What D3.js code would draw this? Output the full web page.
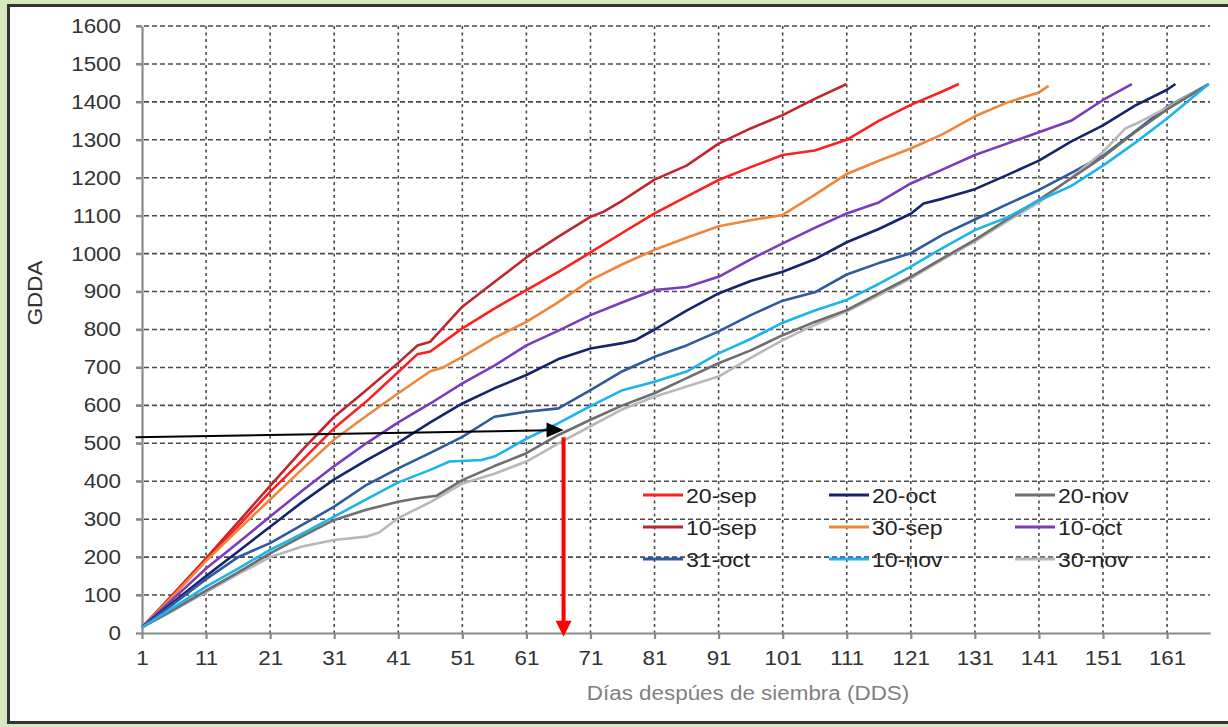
<!DOCTYPE html>
<html>
<head>
<meta charset="utf-8">
<script src="https://cdn.jsdelivr.net/npm/d3@7"></script>
<style>
    body { margin: 0; background: #d7e9be; }
    #chart-area { width: 1228px; height: 727px; }
    text { font-family: "Liberation Sans", Arial, sans-serif; }
</style>
</head>
<body>
<div id="chart-area"></div>
<script>

// GDDA curves per sowing date as [day after sowing, GDDA]
const sep10 = [[1,15],[6,105],[11,197],[16,292],[21,388],[26,482],[31,570],[36,640],[41,712],[44,758],[46,768],[51,860],[56,925],[61,990],[66,1045],[71,1097],[73,1110],[76,1140],[81,1195],[86,1232],[91,1290],[96,1330],[101,1365],[106,1408],[111,1447]];
const sep20 = [[1,15],[6,102],[11,192],[16,282],[21,372],[26,455],[31,540],[36,610],[41,688],[44,735],[46,742],[51,803],[56,855],[61,904],[66,952],[71,1003],[76,1055],[81,1106],[86,1150],[91,1194],[96,1228],[101,1260],[106,1272],[111,1300],[116,1350],[121,1392],[126,1428],[128.5,1447]];
const sep30 = [[1,15],[6,100],[11,190],[16,272],[21,352],[26,432],[31,510],[36,572],[41,632],[46,690],[48,700],[51,728],[56,778],[61,820],[66,872],[71,930],[76,972],[81,1010],[86,1042],[91,1072],[96,1088],[101,1102],[106,1155],[111,1210],[116,1245],[121,1277],[126,1315],[131,1362],[136,1398],[141,1425],[142.5,1442]];
const oct10 = [[1,15],[6,92],[11,170],[16,238],[21,307],[26,375],[31,440],[36,500],[41,555],[46,605],[51,658],[56,705],[61,758],[66,797],[71,838],[76,872],[81,904],[86,912],[91,939],[96,985],[101,1027],[106,1068],[111,1106],[116,1135],[121,1185],[126,1222],[131,1260],[136,1290],[141,1320],[146,1350],[151,1405],[155.5,1447]];
const oct20 = [[1,15],[6,83],[11,150],[16,215],[21,280],[26,345],[31,405],[36,455],[41,502],[46,555],[51,605],[56,645],[61,680],[66,722],[71,750],[76,764],[78,772],[81,800],[86,850],[91,895],[96,928],[101,952],[106,985],[111,1030],[116,1065],[121,1105],[123,1132],[126,1145],[131,1170],[136,1207],[141,1245],[146,1295],[151,1338],[156,1390],[161,1432],[162.3,1447]];
const oct31 = [[1,15],[6,78],[11,142],[16,200],[21,237],[26,285],[31,333],[36,390],[41,434],[46,475],[51,517],[56,570],[61,583],[66,592],[71,640],[76,690],[81,728],[86,758],[91,795],[96,838],[101,876],[106,898],[111,945],[116,975],[121,1001],[126,1050],[131,1090],[136,1130],[141,1168],[146,1212],[151,1258],[156,1322],[161,1387],[167.5,1447]];
const nov10 = [[1,15],[6,68],[11,122],[16,170],[21,219],[26,262],[31,307],[36,352],[41,397],[46,430],[49,452],[54,456],[56,465],[61,512],[66,553],[71,598],[76,640],[81,662],[86,689],[91,737],[96,775],[101,818],[106,850],[111,878],[116,920],[121,966],[126,1015],[131,1062],[136,1095],[141,1140],[146,1178],[151,1232],[156,1292],[161,1356],[167.5,1447]];
const nov20 = [[1,15],[6,62],[11,112],[16,160],[21,210],[26,255],[31,298],[36,325],[41,346],[44,355],[47,362],[51,403],[56,440],[61,474],[66,522],[71,562],[76,600],[81,632],[86,672],[91,711],[96,745],[101,785],[106,820],[111,851],[116,895],[121,939],[126,988],[131,1036],[136,1090],[141,1142],[146,1198],[151,1255],[156,1320],[161,1380],[167.5,1447]];
const nov30 = [[1,15],[6,60],[11,108],[16,155],[21,200],[26,228],[31,245],[36,254],[38,265],[41,303],[46,345],[51,394],[56,420],[61,452],[66,500],[71,545],[76,590],[81,623],[86,650],[91,676],[96,725],[101,772],[106,812],[111,848],[116,890],[121,935],[126,985],[131,1032],[136,1085],[141,1135],[146,1200],[151,1268],[154.5,1330],[156.5,1345],[161,1385],[167.5,1447]];

// legend order (as in the picture) and colours
const seriesNames = ["20-sep", "20-oct", "20-nov", "10-sep", "30-sep", "10-oct", "31-oct", "10-nov", "30-nov"];
const seriesData = [sep20, oct20, nov20, sep10, sep30, oct10, oct31, nov10, nov30];
const seriesColors = ["#ff1f1f", "#16256b", "#6e6e6e", "#c0272d", "#f0863a", "#7a3cbd", "#2f5a9e", "#1db3ec", "#b8b8b8"];
// order the lines are painted in
const drawOrder = ["10-sep", "20-sep", "30-sep", "10-oct", "20-oct", "31-oct", "30-nov", "20-nov", "10-nov"];

const dayTicks = [1, 11, 21, 31, 41, 51, 61, 71, 81, 91, 101, 111, 121, 131, 141, 151, 161];
const gddaTicks = [0, 100, 200, 300, 400, 500, 600, 700, 800, 900, 1000, 1100, 1200, 1300, 1400, 1500, 1600];
const dayDomain = [1, 167.7];
const gddaDomain = [0, 1600];

// reading guide: across at ~GDDA 520 to the curve, then down to the day
const guideAcross = [[0, 516], [66.8, 535]];
const guideDown = [[66.8, 516], [66.8, -10]];

const xTitle = "Días despúes de siembra (DDS)";
const yTitle = "GDDA";


// stretch text a bit wider, the source image is squeezed that way
function widen(sel, k) {
    sel.each(function () {
        let w = this.getComputedTextLength();
        d3.select(this).attr("textLength", w * k).attr("lengthAdjust", "spacingAndGlyphs");
    });
}

class GddChart {

    constructor(parentElement) {
        this.parentElement = parentElement;
        this.initVis();
    }

    initVis() {
        let vis = this;

        vis.margin = {top: 26, right: 18, bottom: 94, left: 142};
        vis.width = 1228 - vis.margin.left - vis.margin.right;
        vis.height = 727 - vis.margin.top - vis.margin.bottom;

        vis.root = d3.select("#" + vis.parentElement).append("svg")
            .attr("width", 1228)
            .attr("height", 727);

        // white panel with dark frame
        vis.root.append("rect")
            .attr("x", 8.5)
            .attr("y", 5.5)
            .attr("width", 1240)
            .attr("height", 717)
            .attr("fill", "white")
            .attr("stroke", "#333")
            .attr("stroke-width", 3);

        vis.svg = vis.root.append("g")
            .attr("transform", "translate(" + vis.margin.left + "," + vis.margin.top + ")");

        vis.x = d3.scaleLinear().domain(dayDomain).range([0, vis.width]);
        vis.y = d3.scaleLinear().domain(gddaDomain).range([vis.height, 0]);

        // grid
        vis.svg.append("g").attr("class", "grid")
            .selectAll("line.h")
            .data(gddaTicks.filter(d => d > 0))
            .enter().append("line")
            .attr("x1", -6)
            .attr("x2", vis.width)
            .attr("y1", d => vis.y(d))
            .attr("y2", d => vis.y(d))
            .attr("stroke", "#4a4a4a")
            .attr("stroke-width", 1.6)
            .attr("stroke-dasharray", "5,3");

        vis.svg.select(".grid")
            .selectAll("line.v")
            .data(dayTicks.filter(d => d > 1))
            .enter().append("line")
            .attr("x1", d => vis.x(d))
            .attr("x2", d => vis.x(d))
            .attr("y1", 0)
            .attr("y2", vis.height)
            .attr("stroke", "#4a4a4a")
            .attr("stroke-width", 1.6)
            .attr("stroke-dasharray", "3,3.5");

        // axes
        vis.xAxis = d3.axisBottom(vis.x)
            .tickValues(dayTicks)
            .tickSize(6)
            .tickSizeOuter(0)
            .tickPadding(12);

        vis.yAxis = d3.axisLeft(vis.y)
            .tickValues(gddaTicks)
            .tickFormat(d3.format("d"))
            .tickSize(6)
            .tickSizeOuter(0)
            .tickPadding(15);

        vis.svg.append("g")
            .attr("class", "x-axis axis")
            .attr("transform", "translate(0," + vis.height + ")")
            .call(vis.xAxis);

        vis.svg.append("g")
            .attr("class", "y-axis axis")
            .call(vis.yAxis);

        vis.svg.selectAll(".axis path, .axis line")
            .attr("stroke", "#8a8a8a")
            .attr("stroke-width", 2.2);

        vis.svg.selectAll(".axis text")
            .attr("font-family", "'Liberation Sans', Arial, sans-serif")
            .attr("font-size", 20)
            .attr("fill", "#333");
        widen(vis.svg.selectAll(".axis text"), 1.12);

        // axis titles
        vis.root.append("text")
            .attr("x", 748)
            .attr("y", 700)
            .attr("text-anchor", "middle")
            .attr("font-size", 20)
            .attr("fill", "#808080")
            .text(xTitle)
            .call(widen, 1.12);

        vis.root.append("text")
            .attr("transform", "translate(42,293) rotate(-90)")
            .attr("text-anchor", "middle")
            .attr("font-size", 20)
            .attr("fill", "#333")
            .text(yTitle)
            .call(widen, 1.12);

        vis.updateVis();
    }

    updateVis() {
        let vis = this;

        vis.line = d3.line()
            .x(d => vis.x(d[0]))
            .y(d => vis.y(d[1]));

        let series = seriesNames.map((name, i) => ({name: name, values: seriesData[i], color: seriesColors[i]}));
        let painted = drawOrder.map(n => series.find(s => s.name === n));

        vis.svg.selectAll(".curve")
            .data(painted)
            .enter().append("path")
            .attr("class", "curve")
            .attr("d", d => vis.line(d.values))
            .attr("fill", "none")
            .attr("stroke", d => d.color)
            .attr("stroke-width", 2.6)
            .attr("stroke-linejoin", "round");

        // legend, 3 columns
        let legend = vis.root.append("g").attr("class", "legend");
        let item = legend.selectAll("g")
            .data(series)
            .enter().append("g")
            .attr("transform", (d, i) => "translate(" + (643 + (i % 3) * 186) + "," + (495 + Math.floor(i / 3) * 32) + ")");

        item.append("line")
            .attr("x1", 0)
            .attr("x2", 40)
            .attr("stroke", d => d.color)
            .attr("stroke-width", 3.2);

        item.append("text")
            .attr("x", 43)
            .attr("dy", "0.36em")
            .attr("font-size", 21)
            .attr("fill", "#222")
            .text(d => d.name)
            .call(widen, 1.1);

        // reading guide arrows
        let across = guideAcross.map(p => [vis.x(p[0]), vis.y(p[1])]);
        let down = guideDown.map(p => [vis.x(p[0]), vis.y(p[1])]);

        vis.svg.append("line")
            .attr("x1", across[0][0]).attr("y1", across[0][1])
            .attr("x2", across[1][0] - 14).attr("y2", across[1][1] + 0.3)
            .attr("stroke", "black")
            .attr("stroke-width", 2);
        let ax = across[1][0], ay = across[1][1];
        vis.svg.append("path")
            .attr("d", `M${ax},${ay} L${ax - 17},${ay - 7.5} L${ax - 17},${ay + 7.5} Z`)
            .attr("fill", "black");

        vis.svg.append("line")
            .attr("x1", down[0][0]).attr("y1", down[0][1])
            .attr("x2", down[1][0]).attr("y2", down[1][1] - 14)
            .attr("stroke", "#ff0000")
            .attr("stroke-width", 4);
        let dx = down[1][0], dy = down[1][1];
        vis.svg.append("path")
            .attr("d", `M${dx},${dy} L${dx - 8},${dy - 16} L${dx + 8},${dy - 16} Z`)
            .attr("fill", "#ff0000");
    }
}

new GddChart("chart-area");
</script>
</body>
</html>
